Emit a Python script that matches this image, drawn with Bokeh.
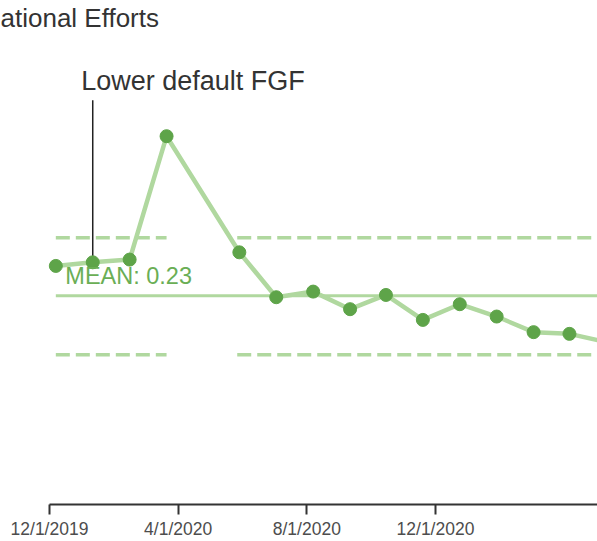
from datetime import datetime, timedelta
import pandas as pd
from bokeh.plotting import figure
from bokeh.models import Range1d, FixedTicker, Label, CustomJSTickFormatter
from bokeh.embed import file_html
from bokeh.resources import INLINE

# ---- data ----
dates = ["2019-12-07", "2020-01-11", "2020-02-15", "2020-03-21", "2020-05-29",
         "2020-07-03", "2020-08-07", "2020-09-11", "2020-10-15", "2020-11-19",
         "2020-12-24", "2021-01-28", "2021-03-04", "2021-04-07", "2021-05-12"]
values = [0.263, 0.267, 0.270, 0.406, 0.278, 0.2285, 0.2347, 0.2153, 0.231,
          0.2035, 0.2208, 0.2072, 0.190, 0.1881, 0.179]
mean_value = 0.23
phase_start = ["2019-12-07", "2020-05-27"]
phase_end = ["2020-03-21", "2021-05-12"]
upper_limit = [0.294, 0.294]
lower_limit = [0.165, 0.165]
tick_dates = ["2019-12-01", "2020-04-01", "2020-08-01", "2020-12-01"]
tick_labels = ["12/1/2019", "4/1/2020", "8/1/2020", "12/1/2020"]
title_text = "ational Efforts"
annotation_text = "Lower default FGF"
annotation_date = "2020-01-11"
annotation_value = 0.267
annotation_top = 0.4455

# ---- styles ----
LINE_GREEN = "#b0d89f"
DOT_GREEN = "#5ea449"
TEXT_GREEN = "#6aae55"
FONT = "Liberation Sans"

x = pd.to_datetime(dates)
ms = lambda d: float(pd.Timestamp(d).value // 10**6)
tick_ms = [ms(d) for d in tick_dates]

origin = datetime(2019, 12, 1)
x_start = origin - timedelta(days=46.46)
x_end = origin + timedelta(days=519.6)

p = figure(width=597, height=541, x_axis_type="datetime",
           x_range=Range1d(x_start, x_end), y_range=Range1d(0.0, 0.5556),
           output_backend="svg", toolbar_location=None,
           min_border_left=0, min_border_right=0, min_border_top=0,
           min_border_bottom=0, y_axis_location=None)
p.grid.visible = False
p.outline_line_color = None
p.background_fill_color = "white"

# control limits per phase
for s, e, u, l in zip(phase_start, phase_end, upper_limit, lower_limit):
    xs = pd.to_datetime([s, e])
    p.line(xs, [u, u], line_color=LINE_GREEN, line_width=3.5, line_dash="14 6")
    p.line(xs, [l, l], line_color=LINE_GREEN, line_width=3.5, line_dash="14 6")

# mean
p.line(pd.to_datetime([dates[0], dates[-1]]), [mean_value, mean_value],
       line_color=LINE_GREEN, line_width=3)

# data line
p.line(x, values, line_color=LINE_GREEN, line_width=4.5)

# annotation stem
p.segment(x0=[pd.Timestamp(annotation_date)], y0=[annotation_value],
          x1=[pd.Timestamp(annotation_date)], y1=[annotation_top],
          line_color="#222222", line_width=1.5)

# dots
p.scatter(x, values, size=13, fill_color=DOT_GREEN, line_color=DOT_GREEN)

# labels
p.add_layout(Label(x=pd.Timestamp("2019-12-16"), y=0.2514, text=f"MEAN: {mean_value}",
                   text_font=FONT, text_font_size="23.5px", text_color=TEXT_GREEN,
                   text_baseline="alphabetic", text_align="left"))
p.add_layout(Label(x=pd.Timestamp("2019-12-31"), y=0.4664, text=annotation_text,
                   text_font=FONT, text_font_size="27px", text_color="#333333",
                   text_baseline="alphabetic", text_align="left"))
p.add_layout(Label(x=x_start, y=0.5358, text=title_text,
                   text_font=FONT, text_font_size="26px", text_color="#333333",
                   text_baseline="alphabetic", text_align="left"))

# axis
ax = p.xaxis[0]
ax.ticker = FixedTicker(ticks=tick_ms)
ax.formatter = CustomJSTickFormatter(
    args=dict(tvals=tick_ms, tlabels=tick_labels),
    code="""
        let best = -1, bd = Infinity;
        for (let i = 0; i < tvals.length; i++) {
            const d = Math.abs(tvals[i] - tick);
            if (d < bd) { bd = d; best = i; }
        }
        return (best >= 0 && bd < 86400000) ? tlabels[best] : "";
    """)
ax.bounds = (tick_ms[0], ms(x_end))
ax.axis_line_color = "#333333"
ax.axis_line_width = 2
ax.major_tick_line_color = "#333333"
ax.major_tick_line_width = 2
ax.major_tick_in = 0
ax.major_tick_out = 10
ax.minor_tick_line_color = None
ax.major_label_standoff = 4
ax.major_label_text_font = FONT
ax.major_label_text_font_size = "17.5px"
ax.major_label_text_color = "#4d4d4d"

open("out.html", "w").write(file_html(p, INLINE))
